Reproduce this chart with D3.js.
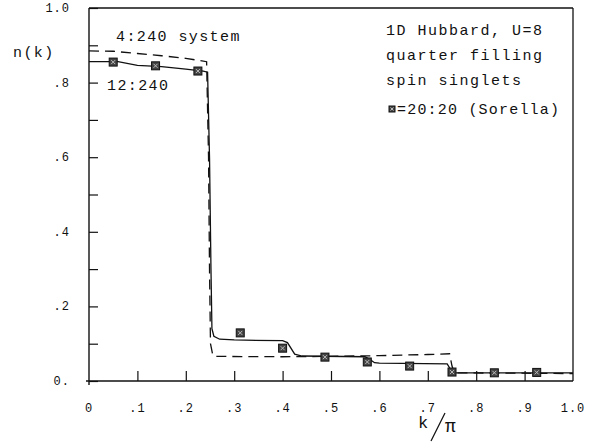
<!DOCTYPE html>
<html><head><meta charset="utf-8">
<script src="https://cdn.jsdelivr.net/npm/d3@7"></script>
<style>body{margin:0;background:#fff;} text{font-family:"Liberation Mono","DejaVu Sans Mono",monospace;fill:#111;}</style>
</head><body><svg id="c" width="599" height="447"></svg>
<script>
const xTicks = [0,0.1,0.2,0.3,0.4,0.5,0.6,0.7,0.8,0.9,1.0];
const xTickLabels = ["0",".1",".2",".3",".4",".5",".6",".7",".8",".9","1.0"];
const yTicks = [0,0.1,0.2,0.3,0.4,0.5,0.6,0.7,0.8,0.9,1.0];
const yLabelVals = [0,0.2,0.4,0.6,0.8,1.0];
const yTickLabels = ["0.",".2",".4",".6",".8","1.0"];
// 12:240 (solid)
const solidK = [0,0.06,0.1,0.15,0.2,0.236,0.245,0.249,0.252,0.254,0.258,0.27,0.3,0.4,0.41,0.425,0.44,0.57,0.58,0.59,0.6,0.74,0.745,0.755,1.0];
const solidN = [0.856,0.856,0.846,0.843,0.836,0.831,0.828,0.6,0.3,0.14,0.12,0.112,0.11,0.108,0.103,0.072,0.067,0.065,0.058,0.049,0.048,0.046,0.035,0.022,0.022];
// 4:240 (dashed)
const dashK = [0,0.05,0.1,0.15,0.2,0.243,0.247,0.249,0.251,0.256,0.26,0.4,0.5,0.6,0.7,0.745,0.75,0.755,1.0];
const dashN = [0.885,0.884,0.878,0.872,0.865,0.856,0.6,0.3,0.1,0.068,0.066,0.065,0.066,0.068,0.071,0.073,0.04,0.022,0.02];
// 20:20 (Sorella) squares
const sqK = [0.05,0.1375,0.225,0.3125,0.4,0.4875,0.575,0.6625,0.75,0.8375,0.925];
const sqN = [0.855,0.845,0.831,0.129,0.088,0.064,0.051,0.040,0.024,0.022,0.023];

const svg = d3.select("#c");
const x = d3.scaleLinear().domain([0,1]).range([89,573]);
const y = d3.scaleLinear().domain([0,1]).range([381,8]);
const ink = "#111";

// frame
svg.append("line").attr("x1",x(0)).attr("x2",x(1)).attr("y1",y(1)).attr("y2",y(1)).attr("stroke",ink).attr("stroke-width",1.3);
svg.append("line").attr("x1",x(1)).attr("x2",x(1)).attr("y1",y(1)).attr("y2",y(0)).attr("stroke",ink).attr("stroke-width",1.3);

// axes via d3
const yAxis = d3.axisRight(y).tickValues(yTicks).tickSize(9).tickFormat("");
const gy = svg.append("g").attr("transform",`translate(${x(0)},0)`).call(yAxis);
const xAxis = d3.axisTop(x).tickValues(xTicks.filter(d=>d>0&&d<1)).tickSize(10).tickFormat("");
const gx = svg.append("g").attr("transform",`translate(0,${y(0)})`).call(xAxis);
[gy,gx].forEach(g=>{g.select(".domain").attr("stroke",ink).attr("stroke-width",1.4);g.selectAll(".tick line").attr("stroke",ink).attr("stroke-width",1.2);});
gx.select(".domain").attr("d",`M${x(0)-3},0H${x(1)}`);
gy.select(".domain").attr("d",`M0,${y(1)}V${y(0)+4}`);

// labels
svg.selectAll(".xl").data(xTicks).enter().append("text")
  .attr("x",d=>x(d)).attr("y",412).attr("text-anchor","middle")
  .attr("font-size",12).attr("letter-spacing",1).text((d,i)=>xTickLabels[i]);
svg.selectAll(".yl").data(yLabelVals).enter().append("text")
  .attr("x",70).attr("y",d=>y(d)+4).attr("text-anchor","end")
  .attr("font-size",12).attr("letter-spacing",1).text((d,i)=>yTickLabels[i]);

// lines
const line = d3.line().x(d=>x(d[0])).y(d=>y(d[1]));
svg.append("path").datum(solidK.map((k,i)=>[k,solidN[i]])).attr("d",line)
  .attr("fill","none").attr("stroke",ink).attr("stroke-width",1.3);
svg.append("path").datum(dashK.map((k,i)=>[k,dashN[i]])).attr("d",line)
  .attr("fill","none").attr("stroke",ink).attr("stroke-width",1.3).attr("stroke-dasharray","10,6");

// squares
function marker(g,cx,cy,s){
  g.append("rect").attr("x",cx-s/2).attr("y",cy-s/2).attr("width",s).attr("height",s)
   .attr("fill","#444").attr("stroke","#111").attr("stroke-width",1);
  g.append("path").attr("d",`M${cx-s/4},${cy-s/4}L${cx+s/4},${cy+s/4}M${cx+s/4},${cy-s/4}L${cx-s/4},${cy+s/4}`)
   .attr("stroke","#bbb").attr("stroke-width",1);
}
const gm = svg.append("g");
sqK.forEach((k,i)=>marker(gm,x(k),y(sqN[i]),8));

// annotations
const ann = (t,xx,yy,fs,ls)=>svg.append("text").attr("x",xx).attr("y",yy).attr("font-size",fs||15).attr("letter-spacing",ls==null?1.4:ls).text(t);
ann("n(k)",13,57);
ann("4:240 system",116,41);
ann("12:240",107,90);
ann("1D Hubbard, U=8",386,35,15,1.5);
ann("quarter filling",386,60,15,1.5);
ann("spin singlets",386,85,15,1.5);
marker(svg,392,109,6);
ann("=20:20 (Sorella)",397,114,15,1.2);
// k/π
svg.append("text").attr("x",418).attr("y",428).attr("font-size",17).attr("font-family","Liberation Sans").text("k");
svg.append("line").attr("x1",431).attr("y1",441).attr("x2",445).attr("y2",413).attr("stroke",ink).attr("stroke-width",1.2);
svg.append("text").attr("x",445).attr("y",432).attr("font-size",18).attr("font-family","Liberation Serif").text("π");
</script></body></html>
